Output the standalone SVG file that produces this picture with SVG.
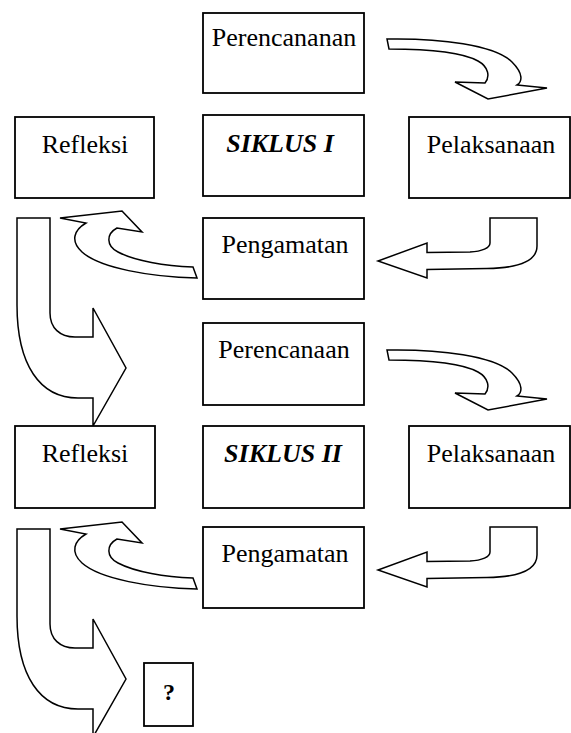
<svg xmlns="http://www.w3.org/2000/svg" width="571" height="733" viewBox="0 0 571 733">
<style>
.box{fill:#fff;stroke:#000;stroke-width:1.8}
.arr{fill:#fff;stroke:#000;stroke-width:1.5;stroke-linejoin:miter}
.t{font-family:"Liberation Serif","Times New Roman",serif;font-size:26px;fill:#000;text-anchor:middle}
.b{font-weight:bold;font-style:italic}
.q{font-weight:bold;font-size:24px}
</style>
<defs>
<path id="a1" d="M387,39 C440,38 495,45 512,62 C524,74 522,82 517,85 L547,88 L488,99 L455,82 L485,83 C490,77 489,67 478,61 C460,51 425,49 389,49 Z"/>
<path id="a3" d="M490,218 L537,218 L537,246 C537,260 520,268 487,268.5 L427,269.5 L427,278 L378,261 L427,243 L427,252.5 L470,252 C482,251.5 490,248 490,243 Z"/>
<path id="a4" d="M197,278 C150,277 100,268 82,252 C70,241 74,230 86,223 L60,218 L122,211 L142,232 L117,228 C106,234 106,246 118,252 C135,261 165,266 193,267 Z"/>
<path id="a5" d="M17,218 L50,218 L50,313 C50,328 60,337 75,337 L93,337 L93,308 L126,368 L93,426 L93,398 L78,398 C40,398 17,365 17,305 Z"/>
</defs>
<g id="connectors">
<use href="#a1" class="arr"/>
<use href="#a3" class="arr"/>
<use href="#a4" class="arr"/>
<use href="#a5" class="arr"/>
<use href="#a1" class="arr" transform="translate(0,311)"/>
<use href="#a3" class="arr" transform="translate(0,309)"/>
<use href="#a4" class="arr" transform="translate(0,311)"/>
<use href="#a5" class="arr" transform="translate(0,311)"/>
</g>
<g id="perencanaan1"><rect class="box" x="203" y="13" width="161" height="80"/><text class="t" x="284" y="46">Perencananan</text></g>
<g id="siklus1"><rect class="box" x="203" y="115" width="161" height="81"/><text class="t b" x="280" y="152">SIKLUS I</text></g>
<g id="pelaksanaan1"><rect class="box" x="409" y="117" width="161" height="81"/><text class="t" x="491" y="153">Pelaksanaan</text></g>
<g id="refleksi1"><rect class="box" x="15" y="117" width="139" height="81"/><text class="t" x="85" y="153">Refleksi</text></g>
<g id="pengamatan1"><rect class="box" x="203" y="218" width="161" height="81"/><text class="t" x="285" y="253">Pengamatan</text></g>
<g id="perencanaan2"><rect class="box" x="203" y="323" width="161" height="82"/><text class="t" x="284" y="358">Perencanaan</text></g>
<g id="siklus2"><rect class="box" x="203" y="426" width="161" height="82"/><text class="t b" x="283" y="462">SIKLUS II</text></g>
<g id="pelaksanaan2"><rect class="box" x="409" y="426" width="161" height="82"/><text class="t" x="491" y="462">Pelaksanaan</text></g>
<g id="refleksi2"><rect class="box" x="15" y="426" width="140" height="82"/><text class="t" x="85" y="462">Refleksi</text></g>
<g id="pengamatan2"><rect class="box" x="203" y="527" width="161" height="81"/><text class="t" x="285" y="562">Pengamatan</text></g>
<g id="unknown"><rect class="box" x="144" y="663" width="49" height="63"/><text class="t q" x="169" y="700">?</text></g>
</svg>
